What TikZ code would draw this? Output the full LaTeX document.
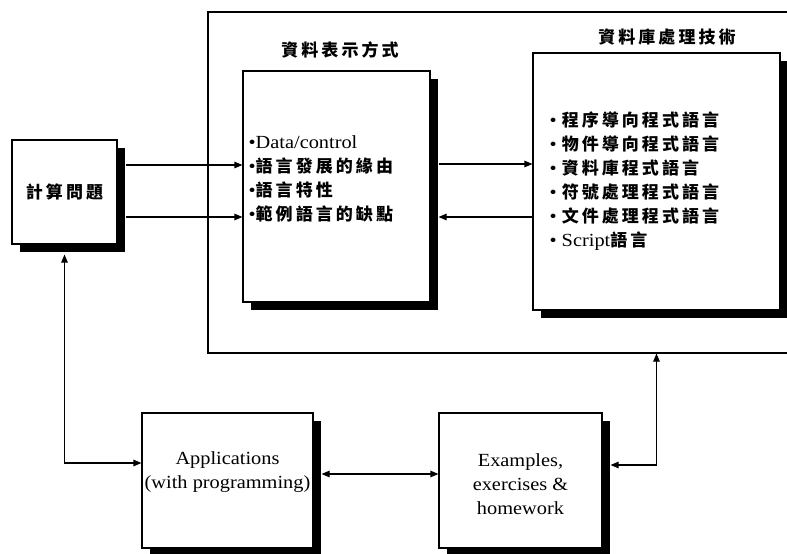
\documentclass[tikz,border=0pt]{standalone}
\usepackage{fontspec}
\setmainfont{Liberation Serif}[FakeStretch=1.1]
\newfontfamily\cjk{Noto Sans CJK TC}[LetterSpace=18]
\newcommand{\zh}[1]{{\cjk\bfseries\fontsize{17}{24}\selectfont #1}}
\usetikzlibrary{shadows,arrows.meta}

\tikzset{
  box/.style={draw, fill=white,
    drop shadow={shadow xshift=8pt, shadow yshift=-8pt, opacity=1, fill=black}},
  txt/.style={font=\fontsize{18.5}{24}\selectfont},
  lst/.style={txt, anchor=north west, inner sep=0pt, align=left},
  >={Triangle[length=8pt,width=6.5pt]},
}

\begin{document}
\begin{tikzpicture}[x=1pt, y=-1pt, line width=1.1pt]
    \useasboundingbox[fill=white] (0,0) rectangle (787,554);
    \clip (0,0) rectangle (787,554);

    % outer frame, its right side runs off the page
    \node[draw, minimum width=692pt, minimum height=341pt] (frame) at (554,182.5) {};

    \node[box, minimum width=105pt, minimum height=104pt] (calc) at (64.5,192) {\zh{計算問題}};
    \node[box, minimum width=187pt, minimum height=231pt] (mid) at (336.5,186.5) {};
    \node[box, minimum width=247pt, minimum height=257pt] (dbms) at (656.5,181.5) {};
    \node[box, minimum width=171pt, minimum height=135pt] (apps) at (227.5,480.5) {};
    \node[box, minimum width=163pt, minimum height=135pt] (exm) at (520.5,480.5) {};

    \node (midtitle) at (340,50) {\zh{資料表示方式}};
    \node (dbmstitle) at (667,37) {\zh{資料庫處理技術}};

    \node[lst] (midlist) at (248,135) {•Data/control\\•\zh{語言發展的緣由}\\•\zh{語言特性}\\•\zh{範例語言的缺點}};
    \node[lst] (dbmslist) at (549,111) {• \zh{程序導向程式語言}\\• \zh{物件導向程式語言}\\• \zh{資料庫程式語言}\\
      • \zh{符號處理程式語言}\\• \zh{文件處理程式語言}\\• Script\zh{語言}};

    \node[txt, align=center] (appstext) at ([yshift=8.5pt]apps.center) {Applications\\(with programming)};
    \node[txt, align=center] (exmtext) at ([yshift=-3.5pt]exm.center) {Examples,\\exercises \&\\homework};

    \draw[->] ([xshift=8pt,yshift=27pt]calc.east) coordinate (c1) -- (c1 -| mid.west);
    \draw[->] ([xshift=8pt,yshift=-25pt]calc.east) coordinate (c2) -- (c2 -| mid.west);
    \draw[->] ([xshift=8pt,yshift=22.5pt]mid.east) coordinate (m1) -- (m1 -| dbms.west);
    \draw[<-] ([xshift=8pt,yshift=-30.5pt]mid.east) coordinate (m2) -- (m2 -| dbms.west);

    \draw[<->] ([yshift=-10pt]calc.south) |- ([yshift=17.5pt]apps.west);
    \draw[<->] ([xshift=8pt,yshift=6.5pt]apps.east) coordinate (a1) -- (a1 -| exm.west);
    \draw[<->] ([xshift=8pt,yshift=15.5pt]exm.east) -| (dbms.south |- frame.south);
\end{tikzpicture}
\end{document}
